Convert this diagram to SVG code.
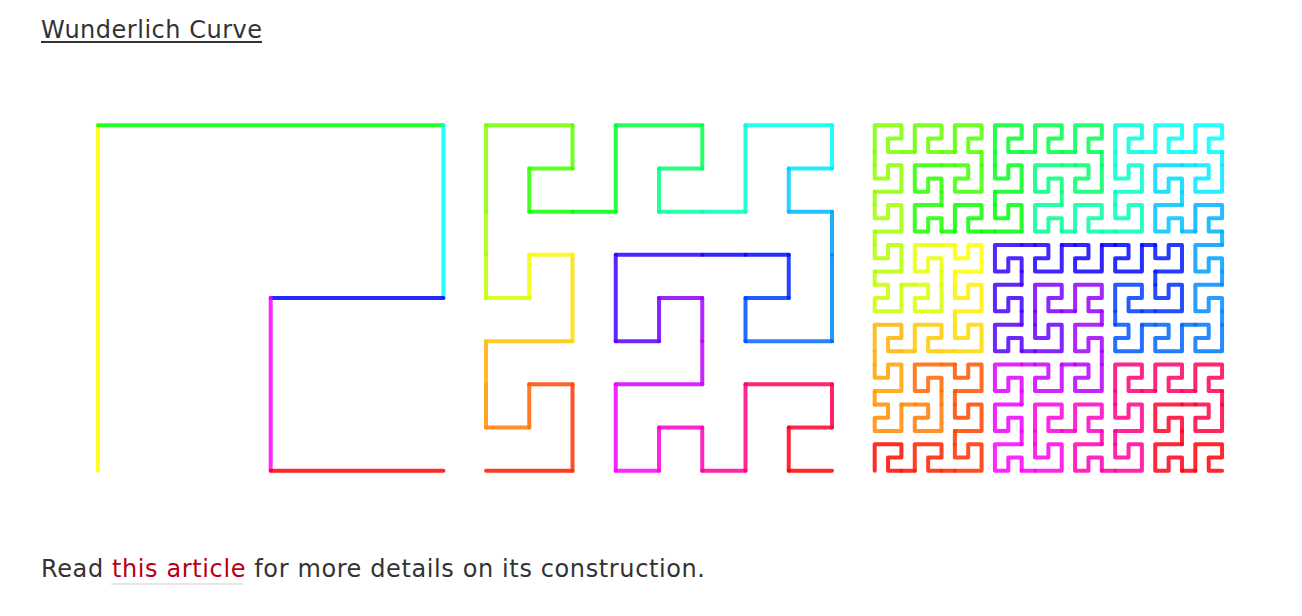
<svg xmlns="http://www.w3.org/2000/svg" xmlns:xlink="http://www.w3.org/1999/xlink" width="1302" height="616" viewBox="0 0 1302 616">
<style>
.t{font-family:"DejaVu Sans","Open Sans",sans-serif;font-size:24px;fill:#333}
.a{fill:#b80015}
.curve{fill:none;stroke-width:4;stroke-opacity:0.85;stroke-linecap:round;stroke-linejoin:round}
.curve path{vector-effect:non-scaling-stroke}
</style>
<defs>
<path id="u" d="M0 2V0H2V1H1V2H2" vector-effect="non-scaling-stroke"/>
<path id="r0" d="M0 2V0" vector-effect="non-scaling-stroke"/>
<path id="r1" d="M0 0H2" vector-effect="non-scaling-stroke"/>
<path id="r2" d="M2 0V1" vector-effect="non-scaling-stroke"/>
<path id="r3" d="M2 1H1" vector-effect="non-scaling-stroke"/>
<path id="r4" d="M1 1V2" vector-effect="non-scaling-stroke"/>
<path id="r5" d="M1 2H2" vector-effect="non-scaling-stroke"/>
</defs>
<rect width="1302" height="616" fill="#fff"/>
<g id="title">
<text class="t" x="41" y="38" textLength="221">Wunderlich Curve</text>
<rect x="41" y="41" width="221" height="2" fill="#333"/>
</g>
<g id="level1" class="curve" transform="translate(98,125.3) scale(172.7,172.7)">
<use href="#r0" stroke="hsl(60,100%,50%)"/>
<use href="#r1" stroke="hsl(120,100%,50%)"/>
<use href="#r2" stroke="hsl(180,100%,50%)"/>
<use href="#r3" stroke="hsl(240,100%,50%)"/>
<use href="#r4" stroke="hsl(300,100%,50%)"/>
<use href="#r5" stroke="hsl(0,100%,50%)"/>
</g>
<g id="level2" class="curve" transform="translate(486,125.3) scale(43.25,43.17)">
<g transform="translate(0,6) matrix(0,-1,-1,0,2,2)"><use href="#r0" stroke="hsl(6,100%,50%)"/><use href="#r1" stroke="hsl(12,100%,50%)"/><use href="#r2" stroke="hsl(17,100%,50%)"/><use href="#r3" stroke="hsl(23,100%,50%)"/><use href="#r4" stroke="hsl(29,100%,50%)"/><use href="#r5" stroke="hsl(35,100%,50%)"/></g>
<path d="M0 6V5" stroke="hsl(41,100%,50%)"/>
<g transform="translate(0,3) matrix(0,-1,-1,0,2,2)"><use href="#r0" stroke="hsl(46,100%,50%)"/><use href="#r1" stroke="hsl(52,100%,50%)"/><use href="#r2" stroke="hsl(58,100%,50%)"/><use href="#r3" stroke="hsl(64,100%,50%)"/><use href="#r4" stroke="hsl(70,100%,50%)"/><use href="#r5" stroke="hsl(76,100%,50%)"/></g>
<path d="M0 3V2" stroke="hsl(81,100%,50%)"/>
<g><use href="#r0" stroke="hsl(87,100%,50%)"/><use href="#r1" stroke="hsl(93,100%,50%)"/><use href="#r2" stroke="hsl(99,100%,50%)"/><use href="#r3" stroke="hsl(105,100%,50%)"/><use href="#r4" stroke="hsl(110,100%,50%)"/><use href="#r5" stroke="hsl(116,100%,50%)"/></g>
<path d="M2 2H3" stroke="hsl(122,100%,50%)"/>
<g transform="translate(3,0)"><use href="#r0" stroke="hsl(128,100%,50%)"/><use href="#r1" stroke="hsl(134,100%,50%)"/><use href="#r2" stroke="hsl(139,100%,50%)"/><use href="#r3" stroke="hsl(145,100%,50%)"/><use href="#r4" stroke="hsl(151,100%,50%)"/><use href="#r5" stroke="hsl(157,100%,50%)"/></g>
<path d="M5 2H6" stroke="hsl(163,100%,50%)"/>
<g transform="translate(6,0)"><use href="#r0" stroke="hsl(168,100%,50%)"/><use href="#r1" stroke="hsl(174,100%,50%)"/><use href="#r2" stroke="hsl(180,100%,50%)"/><use href="#r3" stroke="hsl(186,100%,50%)"/><use href="#r4" stroke="hsl(192,100%,50%)"/><use href="#r5" stroke="hsl(197,100%,50%)"/></g>
<path d="M8 2V3" stroke="hsl(203,100%,50%)"/>
<g transform="translate(6,3) matrix(-1,0,0,-1,2,2)"><use href="#r0" stroke="hsl(209,100%,50%)"/><use href="#r1" stroke="hsl(215,100%,50%)"/><use href="#r2" stroke="hsl(221,100%,50%)"/><use href="#r3" stroke="hsl(226,100%,50%)"/><use href="#r4" stroke="hsl(232,100%,50%)"/><use href="#r5" stroke="hsl(238,100%,50%)"/></g>
<path d="M6 3H5" stroke="hsl(244,100%,50%)"/>
<g transform="translate(3,3) matrix(0,1,1,0,0,0)"><use href="#r0" stroke="hsl(250,100%,50%)"/><use href="#r1" stroke="hsl(255,100%,50%)"/><use href="#r2" stroke="hsl(261,100%,50%)"/><use href="#r3" stroke="hsl(267,100%,50%)"/><use href="#r4" stroke="hsl(273,100%,50%)"/><use href="#r5" stroke="hsl(279,100%,50%)"/></g>
<path d="M5 5V6" stroke="hsl(285,100%,50%)"/>
<g transform="translate(3,6) matrix(0,1,1,0,0,0)"><use href="#r0" stroke="hsl(290,100%,50%)"/><use href="#r1" stroke="hsl(296,100%,50%)"/><use href="#r2" stroke="hsl(302,100%,50%)"/><use href="#r3" stroke="hsl(308,100%,50%)"/><use href="#r4" stroke="hsl(314,100%,50%)"/><use href="#r5" stroke="hsl(319,100%,50%)"/></g>
<path d="M5 8H6" stroke="hsl(325,100%,50%)"/>
<g transform="translate(6,6)"><use href="#r0" stroke="hsl(331,100%,50%)"/><use href="#r1" stroke="hsl(337,100%,50%)"/><use href="#r2" stroke="hsl(343,100%,50%)"/><use href="#r3" stroke="hsl(348,100%,50%)"/><use href="#r4" stroke="hsl(354,100%,50%)"/><use href="#r5" stroke="hsl(360,100%,50%)"/></g>
</g>
<g id="level3" class="curve" transform="translate(874.7,125.3) scale(13.36,13.29)">
<g transform="translate(0,18) matrix(0,-1,-1,0,8,8)">
<use href="#u" transform="translate(0,6) matrix(0,-1,-1,0,2,2)" stroke="hsl(2,100%,50%)"/><path d="M0 6V5" stroke="hsl(4,100%,50%)"/>
<use href="#u" transform="translate(0,3) matrix(0,-1,-1,0,2,2)" stroke="hsl(7,100%,50%)"/><path d="M0 3V2" stroke="hsl(9,100%,50%)"/>
<use href="#u" stroke="hsl(11,100%,50%)"/><path d="M2 2H3" stroke="hsl(13,100%,50%)"/>
<use href="#u" transform="translate(3,0)" stroke="hsl(16,100%,50%)"/><path d="M5 2H6" stroke="hsl(18,100%,50%)"/>
<use href="#u" transform="translate(6,0)" stroke="hsl(20,100%,50%)"/><path d="M8 2V3" stroke="hsl(22,100%,50%)"/>
<use href="#u" transform="translate(6,3) matrix(-1,0,0,-1,2,2)" stroke="hsl(24,100%,50%)"/><path d="M6 3H5" stroke="hsl(27,100%,50%)"/>
<use href="#u" transform="translate(3,3) matrix(0,1,1,0,0,0)" stroke="hsl(29,100%,50%)"/><path d="M5 5V6" stroke="hsl(31,100%,50%)"/>
<use href="#u" transform="translate(3,6) matrix(0,1,1,0,0,0)" stroke="hsl(33,100%,50%)"/><path d="M5 8H6" stroke="hsl(36,100%,50%)"/>
<use href="#u" transform="translate(6,6)" stroke="hsl(38,100%,50%)"/>
</g>
<path d="M0 18V17" stroke="hsl(40,100%,50%)"/>
<g transform="translate(0,9) matrix(0,-1,-1,0,8,8)">
<use href="#u" transform="translate(0,6) matrix(0,-1,-1,0,2,2)" stroke="hsl(42,100%,50%)"/><path d="M0 6V5" stroke="hsl(45,100%,50%)"/>
<use href="#u" transform="translate(0,3) matrix(0,-1,-1,0,2,2)" stroke="hsl(47,100%,50%)"/><path d="M0 3V2" stroke="hsl(49,100%,50%)"/>
<use href="#u" stroke="hsl(51,100%,50%)"/><path d="M2 2H3" stroke="hsl(53,100%,50%)"/>
<use href="#u" transform="translate(3,0)" stroke="hsl(56,100%,50%)"/><path d="M5 2H6" stroke="hsl(58,100%,50%)"/>
<use href="#u" transform="translate(6,0)" stroke="hsl(60,100%,50%)"/><path d="M8 2V3" stroke="hsl(62,100%,50%)"/>
<use href="#u" transform="translate(6,3) matrix(-1,0,0,-1,2,2)" stroke="hsl(65,100%,50%)"/><path d="M6 3H5" stroke="hsl(67,100%,50%)"/>
<use href="#u" transform="translate(3,3) matrix(0,1,1,0,0,0)" stroke="hsl(69,100%,50%)"/><path d="M5 5V6" stroke="hsl(71,100%,50%)"/>
<use href="#u" transform="translate(3,6) matrix(0,1,1,0,0,0)" stroke="hsl(73,100%,50%)"/><path d="M5 8H6" stroke="hsl(76,100%,50%)"/>
<use href="#u" transform="translate(6,6)" stroke="hsl(78,100%,50%)"/>
</g>
<path d="M0 9V8" stroke="hsl(80,100%,50%)"/>
<g>
<use href="#u" transform="translate(0,6) matrix(0,-1,-1,0,2,2)" stroke="hsl(82,100%,50%)"/><path d="M0 6V5" stroke="hsl(85,100%,50%)"/>
<use href="#u" transform="translate(0,3) matrix(0,-1,-1,0,2,2)" stroke="hsl(87,100%,50%)"/><path d="M0 3V2" stroke="hsl(89,100%,50%)"/>
<use href="#u" stroke="hsl(91,100%,50%)"/><path d="M2 2H3" stroke="hsl(93,100%,50%)"/>
<use href="#u" transform="translate(3,0)" stroke="hsl(96,100%,50%)"/><path d="M5 2H6" stroke="hsl(98,100%,50%)"/>
<use href="#u" transform="translate(6,0)" stroke="hsl(100,100%,50%)"/><path d="M8 2V3" stroke="hsl(102,100%,50%)"/>
<use href="#u" transform="translate(6,3) matrix(-1,0,0,-1,2,2)" stroke="hsl(105,100%,50%)"/><path d="M6 3H5" stroke="hsl(107,100%,50%)"/>
<use href="#u" transform="translate(3,3) matrix(0,1,1,0,0,0)" stroke="hsl(109,100%,50%)"/><path d="M5 5V6" stroke="hsl(111,100%,50%)"/>
<use href="#u" transform="translate(3,6) matrix(0,1,1,0,0,0)" stroke="hsl(114,100%,50%)"/><path d="M5 8H6" stroke="hsl(116,100%,50%)"/>
<use href="#u" transform="translate(6,6)" stroke="hsl(118,100%,50%)"/>
</g>
<path d="M8 8H9" stroke="hsl(120,100%,50%)"/>
<g transform="translate(9,0)">
<use href="#u" transform="translate(0,6) matrix(0,-1,-1,0,2,2)" stroke="hsl(122,100%,50%)"/><path d="M0 6V5" stroke="hsl(125,100%,50%)"/>
<use href="#u" transform="translate(0,3) matrix(0,-1,-1,0,2,2)" stroke="hsl(127,100%,50%)"/><path d="M0 3V2" stroke="hsl(129,100%,50%)"/>
<use href="#u" stroke="hsl(131,100%,50%)"/><path d="M2 2H3" stroke="hsl(134,100%,50%)"/>
<use href="#u" transform="translate(3,0)" stroke="hsl(136,100%,50%)"/><path d="M5 2H6" stroke="hsl(138,100%,50%)"/>
<use href="#u" transform="translate(6,0)" stroke="hsl(140,100%,50%)"/><path d="M8 2V3" stroke="hsl(143,100%,50%)"/>
<use href="#u" transform="translate(6,3) matrix(-1,0,0,-1,2,2)" stroke="hsl(145,100%,50%)"/><path d="M6 3H5" stroke="hsl(147,100%,50%)"/>
<use href="#u" transform="translate(3,3) matrix(0,1,1,0,0,0)" stroke="hsl(149,100%,50%)"/><path d="M5 5V6" stroke="hsl(151,100%,50%)"/>
<use href="#u" transform="translate(3,6) matrix(0,1,1,0,0,0)" stroke="hsl(154,100%,50%)"/><path d="M5 8H6" stroke="hsl(156,100%,50%)"/>
<use href="#u" transform="translate(6,6)" stroke="hsl(158,100%,50%)"/>
</g>
<path d="M17 8H18" stroke="hsl(160,100%,50%)"/>
<g transform="translate(18,0)">
<use href="#u" transform="translate(0,6) matrix(0,-1,-1,0,2,2)" stroke="hsl(163,100%,50%)"/><path d="M0 6V5" stroke="hsl(165,100%,50%)"/>
<use href="#u" transform="translate(0,3) matrix(0,-1,-1,0,2,2)" stroke="hsl(167,100%,50%)"/><path d="M0 3V2" stroke="hsl(169,100%,50%)"/>
<use href="#u" stroke="hsl(171,100%,50%)"/><path d="M2 2H3" stroke="hsl(174,100%,50%)"/>
<use href="#u" transform="translate(3,0)" stroke="hsl(176,100%,50%)"/><path d="M5 2H6" stroke="hsl(178,100%,50%)"/>
<use href="#u" transform="translate(6,0)" stroke="hsl(180,100%,50%)"/><path d="M8 2V3" stroke="hsl(183,100%,50%)"/>
<use href="#u" transform="translate(6,3) matrix(-1,0,0,-1,2,2)" stroke="hsl(185,100%,50%)"/><path d="M6 3H5" stroke="hsl(187,100%,50%)"/>
<use href="#u" transform="translate(3,3) matrix(0,1,1,0,0,0)" stroke="hsl(189,100%,50%)"/><path d="M5 5V6" stroke="hsl(191,100%,50%)"/>
<use href="#u" transform="translate(3,6) matrix(0,1,1,0,0,0)" stroke="hsl(194,100%,50%)"/><path d="M5 8H6" stroke="hsl(196,100%,50%)"/>
<use href="#u" transform="translate(6,6)" stroke="hsl(198,100%,50%)"/>
</g>
<path d="M26 8V9" stroke="hsl(200,100%,50%)"/>
<g transform="translate(18,9) matrix(-1,0,0,-1,8,8)">
<use href="#u" transform="translate(0,6) matrix(0,-1,-1,0,2,2)" stroke="hsl(203,100%,50%)"/><path d="M0 6V5" stroke="hsl(205,100%,50%)"/>
<use href="#u" transform="translate(0,3) matrix(0,-1,-1,0,2,2)" stroke="hsl(207,100%,50%)"/><path d="M0 3V2" stroke="hsl(209,100%,50%)"/>
<use href="#u" stroke="hsl(212,100%,50%)"/><path d="M2 2H3" stroke="hsl(214,100%,50%)"/>
<use href="#u" transform="translate(3,0)" stroke="hsl(216,100%,50%)"/><path d="M5 2H6" stroke="hsl(218,100%,50%)"/>
<use href="#u" transform="translate(6,0)" stroke="hsl(220,100%,50%)"/><path d="M8 2V3" stroke="hsl(223,100%,50%)"/>
<use href="#u" transform="translate(6,3) matrix(-1,0,0,-1,2,2)" stroke="hsl(225,100%,50%)"/><path d="M6 3H5" stroke="hsl(227,100%,50%)"/>
<use href="#u" transform="translate(3,3) matrix(0,1,1,0,0,0)" stroke="hsl(229,100%,50%)"/><path d="M5 5V6" stroke="hsl(231,100%,50%)"/>
<use href="#u" transform="translate(3,6) matrix(0,1,1,0,0,0)" stroke="hsl(234,100%,50%)"/><path d="M5 8H6" stroke="hsl(236,100%,50%)"/>
<use href="#u" transform="translate(6,6)" stroke="hsl(238,100%,50%)"/>
</g>
<path d="M18 9H17" stroke="hsl(240,100%,50%)"/>
<g transform="translate(9,9) matrix(0,1,1,0,0,0)">
<use href="#u" transform="translate(0,6) matrix(0,-1,-1,0,2,2)" stroke="hsl(243,100%,50%)"/><path d="M0 6V5" stroke="hsl(245,100%,50%)"/>
<use href="#u" transform="translate(0,3) matrix(0,-1,-1,0,2,2)" stroke="hsl(247,100%,50%)"/><path d="M0 3V2" stroke="hsl(249,100%,50%)"/>
<use href="#u" stroke="hsl(252,100%,50%)"/><path d="M2 2H3" stroke="hsl(254,100%,50%)"/>
<use href="#u" transform="translate(3,0)" stroke="hsl(256,100%,50%)"/><path d="M5 2H6" stroke="hsl(258,100%,50%)"/>
<use href="#u" transform="translate(6,0)" stroke="hsl(260,100%,50%)"/><path d="M8 2V3" stroke="hsl(263,100%,50%)"/>
<use href="#u" transform="translate(6,3) matrix(-1,0,0,-1,2,2)" stroke="hsl(265,100%,50%)"/><path d="M6 3H5" stroke="hsl(267,100%,50%)"/>
<use href="#u" transform="translate(3,3) matrix(0,1,1,0,0,0)" stroke="hsl(269,100%,50%)"/><path d="M5 5V6" stroke="hsl(271,100%,50%)"/>
<use href="#u" transform="translate(3,6) matrix(0,1,1,0,0,0)" stroke="hsl(274,100%,50%)"/><path d="M5 8H6" stroke="hsl(276,100%,50%)"/>
<use href="#u" transform="translate(6,6)" stroke="hsl(278,100%,50%)"/>
</g>
<path d="M17 17V18" stroke="hsl(280,100%,50%)"/>
<g transform="translate(9,18) matrix(0,1,1,0,0,0)">
<use href="#u" transform="translate(0,6) matrix(0,-1,-1,0,2,2)" stroke="hsl(283,100%,50%)"/><path d="M0 6V5" stroke="hsl(285,100%,50%)"/>
<use href="#u" transform="translate(0,3) matrix(0,-1,-1,0,2,2)" stroke="hsl(287,100%,50%)"/><path d="M0 3V2" stroke="hsl(289,100%,50%)"/>
<use href="#u" stroke="hsl(292,100%,50%)"/><path d="M2 2H3" stroke="hsl(294,100%,50%)"/>
<use href="#u" transform="translate(3,0)" stroke="hsl(296,100%,50%)"/><path d="M5 2H6" stroke="hsl(298,100%,50%)"/>
<use href="#u" transform="translate(6,0)" stroke="hsl(301,100%,50%)"/><path d="M8 2V3" stroke="hsl(303,100%,50%)"/>
<use href="#u" transform="translate(6,3) matrix(-1,0,0,-1,2,2)" stroke="hsl(305,100%,50%)"/><path d="M6 3H5" stroke="hsl(307,100%,50%)"/>
<use href="#u" transform="translate(3,3) matrix(0,1,1,0,0,0)" stroke="hsl(309,100%,50%)"/><path d="M5 5V6" stroke="hsl(312,100%,50%)"/>
<use href="#u" transform="translate(3,6) matrix(0,1,1,0,0,0)" stroke="hsl(314,100%,50%)"/><path d="M5 8H6" stroke="hsl(316,100%,50%)"/>
<use href="#u" transform="translate(6,6)" stroke="hsl(318,100%,50%)"/>
</g>
<path d="M17 26H18" stroke="hsl(321,100%,50%)"/>
<g transform="translate(18,18)">
<use href="#u" transform="translate(0,6) matrix(0,-1,-1,0,2,2)" stroke="hsl(323,100%,50%)"/><path d="M0 6V5" stroke="hsl(325,100%,50%)"/>
<use href="#u" transform="translate(0,3) matrix(0,-1,-1,0,2,2)" stroke="hsl(327,100%,50%)"/><path d="M0 3V2" stroke="hsl(329,100%,50%)"/>
<use href="#u" stroke="hsl(332,100%,50%)"/><path d="M2 2H3" stroke="hsl(334,100%,50%)"/>
<use href="#u" transform="translate(3,0)" stroke="hsl(336,100%,50%)"/><path d="M5 2H6" stroke="hsl(338,100%,50%)"/>
<use href="#u" transform="translate(6,0)" stroke="hsl(341,100%,50%)"/><path d="M8 2V3" stroke="hsl(343,100%,50%)"/>
<use href="#u" transform="translate(6,3) matrix(-1,0,0,-1,2,2)" stroke="hsl(345,100%,50%)"/><path d="M6 3H5" stroke="hsl(347,100%,50%)"/>
<use href="#u" transform="translate(3,3) matrix(0,1,1,0,0,0)" stroke="hsl(350,100%,50%)"/><path d="M5 5V6" stroke="hsl(352,100%,50%)"/>
<use href="#u" transform="translate(3,6) matrix(0,1,1,0,0,0)" stroke="hsl(354,100%,50%)"/><path d="M5 8H6" stroke="hsl(356,100%,50%)"/>
<use href="#u" transform="translate(6,6)" stroke="hsl(358,100%,50%)"/>
</g>
</g>
<g id="caption">
<text class="t" x="41" y="577" textLength="664">Read <tspan class="a">this article</tspan> for more details on its construction.</text>
<rect x="111" y="583" width="132" height="2" fill="#e6e6e6"/>
</g>
</svg>
